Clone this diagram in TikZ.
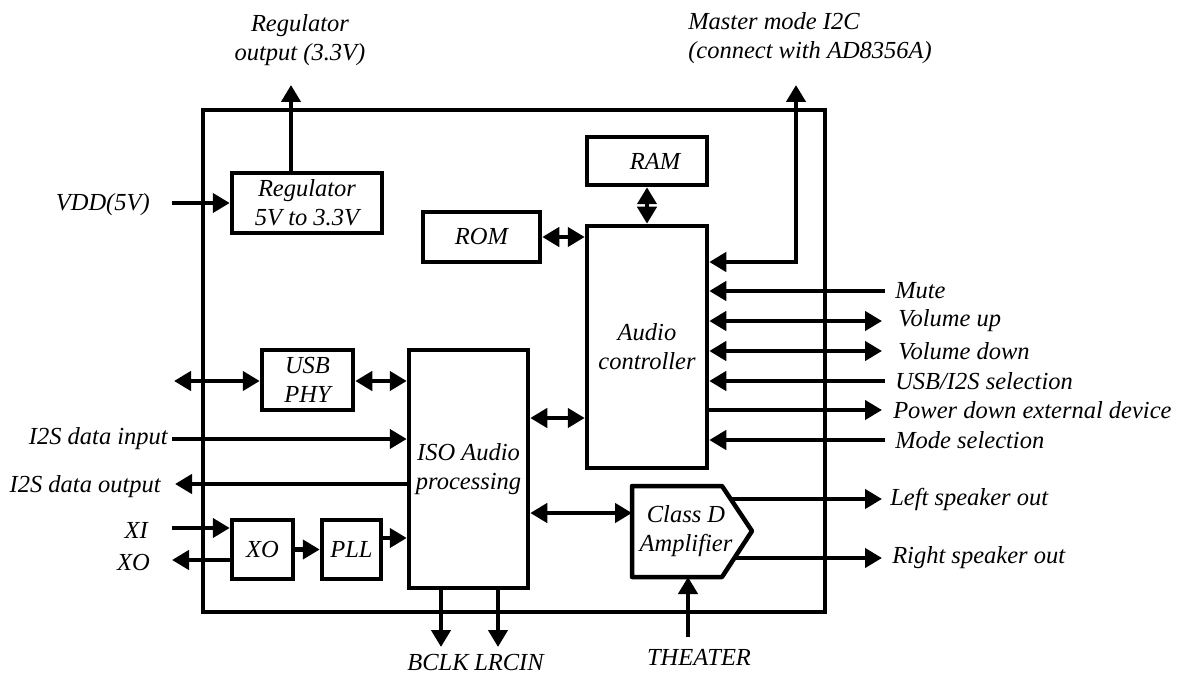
\documentclass[tikz,border=0pt]{standalone}
\usepackage{fontspec}
\setmainfont{Liberation Serif}
\newfontfamily\itf{Liberation Serif Italic}
\usetikzlibrary{arrows.meta,calc}
\begin{document}
\begin{tikzpicture}[x=1pt,y=-1pt,line width=4.5pt,
  txt/.style={font=\itf\fontsize{24.5}{29}\selectfont, inner sep=0pt, align=center},
  blk/.style={draw, line width=4.5pt, font=\itf\fontsize{24.5}{29}\selectfont, align=center, inner sep=0pt},
  ar/.style={-{Triangle[length=17pt,width=19pt]}},
  dar/.style={{Triangle[length=17pt,width=19pt]}-{Triangle[length=17pt,width=19pt]}}]
\useasboundingbox (0,0) rectangle (1178,679);
% outer chip
\draw (203,110) rectangle (825,612);
% blocks
\node[blk, minimum width=150pt, minimum height=60pt] (reg) at (307,203) {Regulator\\5V to 3.3V};
\node[blk, minimum width=120pt, minimum height=48pt] (ram) at (647,161) {\hspace*{16pt}RAM};
\node[blk, minimum width=117pt, minimum height=50pt] (rom) at (481.5,237) {ROM};
\node[blk, minimum width=120pt, minimum height=242pt] (audio) at (647,347) {Audio\\controller};
\node[blk, minimum width=91pt, minimum height=60pt] (usb) at (307.5,380) {USB\\PHY};
\node[blk, minimum width=119pt, minimum height=238pt] (iso) at (468.5,469) {ISO Audio\\processing};
\node[blk, minimum width=61pt, minimum height=59pt] (xo) at (262.5,549.5) {XO};
\node[blk, minimum width=59pt, minimum height=59pt] (pll) at (351.5,549.5) {PLL};
% class D amplifier
\draw[line join=round] (632,486) -- (722,486) -- (752,531) -- (722,577) -- (632,577) -- cycle;
\node[txt] (cd) at (686,531) {Class D\\Amplifier};
\coordinate (cdw) at (632,513);
\coordinate (cdtop) at (731,499);
\coordinate (cdbot) at (734,558);
\coordinate (cds) at (688,577);
% top outputs
\coordinate (regout) at (291,85);
\draw[ar] (reg.north -| regout) -- (regout);
\node[txt] (lregout) at (300,40) {Regulator\\output (3.3V)};
\coordinate (mtop) at (796,85);
\coordinate (mcor) at (796,262);
\draw[dar] (mtop) -- (mcor) -- (mcor -| audio.east);
\node[txt, align=left, anchor=north west] (lmaster) at (686,10) {Master mode I2C\\(connect with AD8356A)};
% VDD
\coordinate (vdd) at (172,203);
\draw[ar] (vdd) -- (reg.west);
\node[txt, anchor=east] (lvdd) at (152,205) {VDD(5V)};
% RAM, ROM
\draw[dar] (ram) -- (audio);
\draw[dar] (rom.east) -- (rom.east -| audio.west);
% right side signals
\coordinate (mute) at (885,291);
\coordinate (vup) at (882,321);
\coordinate (vdn) at (882,351);
\coordinate (sel) at (885,381);
\coordinate (pwd) at (882,410);
\coordinate (mode) at (885,440);
\draw[ar] (mute) -- (mute -| audio.east);
\draw[dar] (vup -| audio.east) -- (vup);
\draw[dar] (vdn -| audio.east) -- (vdn);
\draw[ar] (sel) -- (sel -| audio.east);
\draw[ar] (pwd -| audio.east) -- (pwd);
\draw[ar] (mode) -- (mode -| audio.east);
\node[txt, anchor=west] (lmute) at (893,291) {Mute};
\node[txt, anchor=west] (lvup) at (896,321) {Volume up};
\node[txt, anchor=west] (lvdn) at (896,351) {Volume down};
\node[txt, anchor=west] (lsel) at (893,381) {USB/I2S selection};
\node[txt, anchor=west] (lpwd) at (891,410) {Power down external device};
\node[txt, anchor=west] (lmode) at (893,440) {Mode selection};
% USB
\coordinate (usbext) at (174,381);
\draw[dar] (usbext) -- (usb.west |- usbext);
\draw[dar] (usb.east |- usbext) -- (iso.west |- usbext);
% I2S
\coordinate (i2sin) at (172,439);
\draw[ar] (i2sin) -- (i2sin -| iso.west);
\node[txt, anchor=east] (li2sin) at (170,439) {I2S data input};
\coordinate (i2sout) at (175,484);
\draw[ar] (i2sout -| iso.west) -- (i2sout);
\node[txt, anchor=east] (li2sout) at (163,487) {I2S data output};
% XI/XO
\coordinate (xi) at (172,528);
\coordinate (xoo) at (172,560);
\draw[ar] (xi) -- (xi -| xo.west);
\draw[ar] (xoo -| xo.west) -- (xoo);
\node[txt, anchor=east] (lxi) at (150,530) {XI};
\node[txt, anchor=east] (lxo) at (152,563) {XO};
\draw[ar] (xo) -- (pll);
\coordinate (pllo) at (381,538);
\draw[ar] (pllo) -- (pllo -| iso.west);
% ISO connections
\coordinate (ia) at (528,418);
\draw[dar] (ia -| iso.east) -- (ia -| audio.west);
\draw[dar] (cdw -| iso.east) -- (cdw);
% BCLK LRCIN
\coordinate (bclk) at (441,647);
\coordinate (lrc) at (498,647);
\draw[ar] (bclk |- iso.south) -- (bclk);
\draw[ar] (lrc |- iso.south) -- (lrc);
\node[txt] (lbclk) at (438,662) {BCLK};
\node[txt] (llrc) at (509,662) {LRCIN};
% Class D outputs
\coordinate (lsp) at (882,499);
\coordinate (rsp) at (882,558);
\draw[ar] (cdtop) -- (lsp);
\draw[ar] (cdbot) -- (rsp);
\node[txt, anchor=west] (llsp) at (888,499) {Left speaker out};
\node[txt, anchor=west] (lrsp) at (890,558) {Right speaker out};
% THEATER
\coordinate (th) at (688,637);
\draw[ar] (th) -- (cds);
\node[txt] (lth) at (699,657) {THEATER};
\end{tikzpicture}
\end{document}
